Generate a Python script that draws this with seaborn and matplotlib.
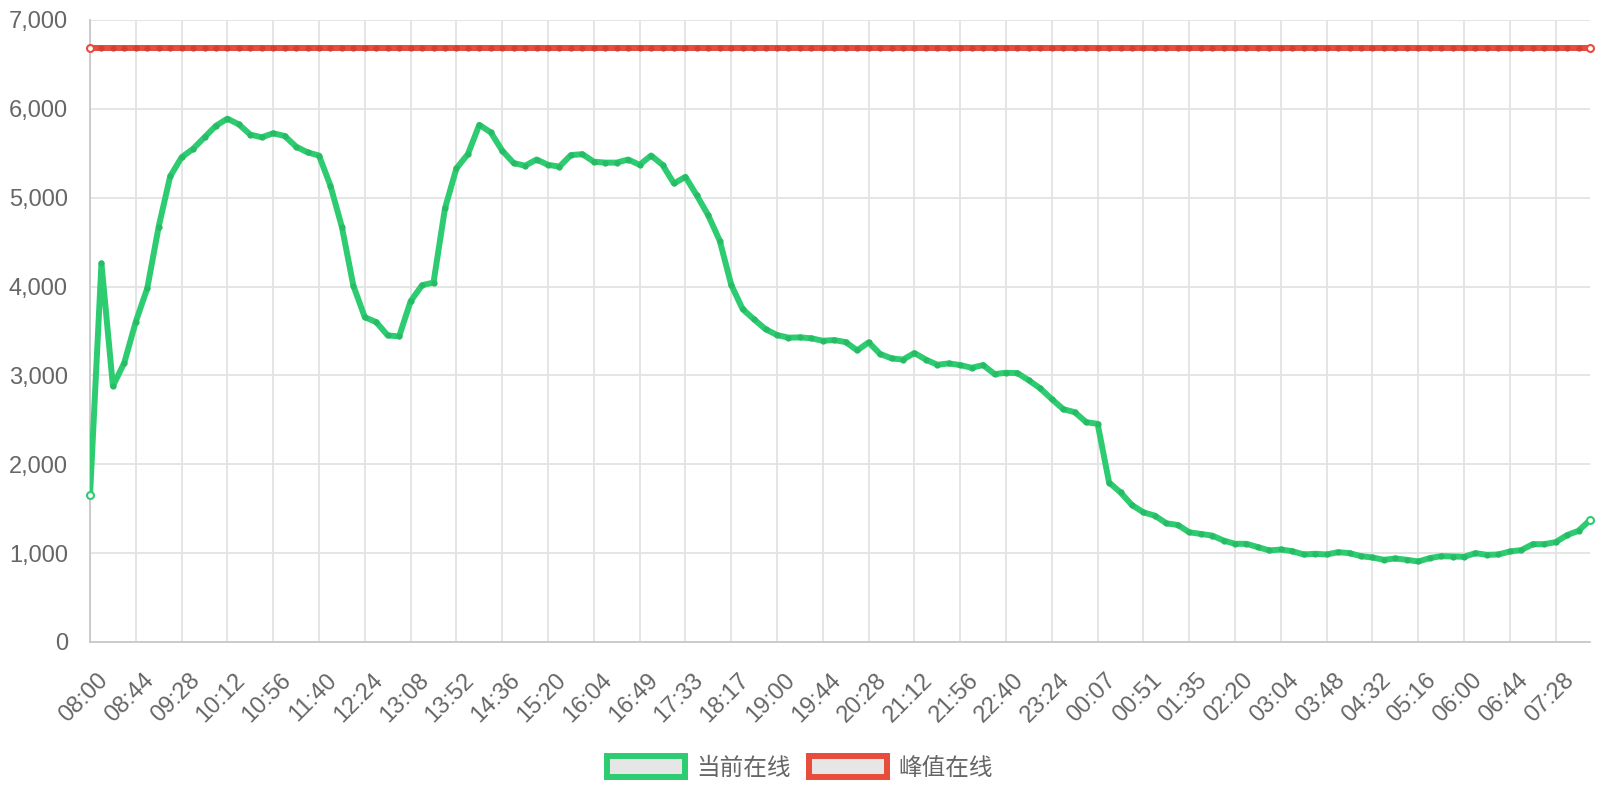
import numpy as np
import seaborn as sns
import matplotlib.pyplot as plt
import matplotlib.transforms as mtransforms
from matplotlib.patches import Patch
from matplotlib.ticker import FuncFormatter

# tick labels (one every 4 samples)
time_labels = ['08:00', '08:44', '09:28', '10:12', '10:56', '11:40', '12:24', '13:08',
               '13:52', '14:36', '15:20', '16:04', '16:49', '17:33', '18:17', '19:00',
               '19:44', '20:28', '21:12', '21:56', '22:40', '23:24', '00:07', '00:51',
               '01:35', '02:20', '03:04', '03:48', '04:32', '05:16', '06:00', '06:44',
               '07:28']

# current online users, one sample every ~11 minutes
online_now = [1650, 4260, 2880, 3145, 3605, 3980, 4675, 5240, 5455, 5550,
              5680, 5810, 5890, 5825, 5710, 5680, 5725, 5695, 5575, 5510,
              5475, 5135, 4670, 4010, 3655, 3600, 3450, 3440, 3835, 4015,
              4045, 4880, 5330, 5490, 5820, 5735, 5530, 5390, 5360, 5430,
              5370, 5350, 5480, 5490, 5405, 5395, 5395, 5430, 5370, 5475,
              5370, 5160, 5235, 5025, 4800, 4515, 4020, 3745, 3630, 3520,
              3455, 3425, 3428, 3418, 3390, 3398, 3375, 3282, 3372, 3242,
              3192, 3178, 3252, 3178, 3120, 3135, 3117, 3086, 3117, 3015,
              3030, 3026, 2944, 2853, 2733, 2620, 2586, 2474, 2455, 1795,
              1683, 1541, 1459, 1422, 1336, 1317, 1235, 1217, 1198, 1142,
              1105, 1105, 1068, 1030, 1041, 1022, 985, 993, 985, 1011,
              1000, 966, 951, 925, 940, 925, 906, 944, 966, 962,
              959, 1000, 981, 985, 1019, 1034, 1101, 1101, 1124, 1203,
              1252, 1372]

peak_value = 6690
peak_online = [peak_value] * len(online_now)

series_names = ['当前在线', '峰值在线']
green, red = '#2ecc71', '#e74c3c'

sns.set_theme(style='white')
plt.rcParams['font.family'] = ['Liberation Sans', 'Noto Sans CJK SC', 'DejaVu Sans']

fig = plt.figure(figsize=(16, 8), dpi=100)
ax = fig.add_axes([0.05625, 0.1975, 0.9375, 0.7775])

idx = np.arange(len(online_now))

sns.lineplot(x=idx, y=peak_online, ax=ax, color=red, linewidth=4.3,
             marker='o', markersize=4.5, markerfacecolor='#d2402f',
             markeredgecolor='#d2402f', markeredgewidth=0, zorder=3)
sns.lineplot(x=idx, y=online_now, ax=ax, color=green, linewidth=4.3,
             marker='o', markersize=4.5, markerfacecolor='#27bb66',
             markeredgecolor='#27bb66', markeredgewidth=0, zorder=4)

# hollow end points
ends = [0, len(online_now) - 1]
ax.plot(ends, [peak_online[i] for i in ends], 'o', ms=5, mfc='white', mec=red,
        mew=1.5, ls='none', zorder=5, clip_on=False)
ax.plot(ends, [online_now[i] for i in ends], 'o', ms=5, mfc='white', mec=green,
        mew=1.5, ls='none', zorder=5, clip_on=False)

ax.set_xlim(0, len(online_now) - 1)
ax.set_ylim(0, 7000)
ax.set_xticks(np.arange(0, len(online_now), 4))
ax.set_xticklabels(time_labels, rotation=45, ha='right', rotation_mode='anchor')
ax.set_yticks(np.arange(0, 7001, 1000))
ax.yaxis.set_major_formatter(FuncFormatter(lambda v, p: f'{int(v):,}'))

ax.grid(True, color='#e3e3e3', linewidth=1.3)
ax.tick_params(axis='both', length=11, width=1.3, color='#e3e3e3',
               labelcolor='#666666', labelsize=17, pad=5)
ax.tick_params(axis='x', pad=6)
# nudge rotated labels so their right end sits past the tick, as in the original
shift = mtransforms.ScaledTranslation(0.07, -0.04, fig.dpi_scale_trans)
for lab in ax.get_xticklabels():
    lab.set_transform(lab.get_transform() + shift)
for side in ['top', 'right']:
    ax.spines[side].set_visible(False)
for side in ['left', 'bottom']:
    ax.spines[side].set_color('#c8c8c8')
    ax.spines[side].set_linewidth(1.3)
ax.set_xlabel('')
ax.set_ylabel('')

handles = [Patch(facecolor='#e6e6e6', edgecolor=green, linewidth=4.3),
           Patch(facecolor='#e6e6e6', edgecolor=red, linewidth=4.3)]
leg = fig.legend(handles, series_names, loc='center', bbox_to_anchor=(0.5, 0.04),
                 ncol=2, frameon=False, fontsize=17, handlelength=3.3,
                 handleheight=1.0, handletextpad=0.5, columnspacing=0.75)
for t in leg.get_texts():
    t.set_color('#666666')

fig.savefig('out.png', dpi=100)
